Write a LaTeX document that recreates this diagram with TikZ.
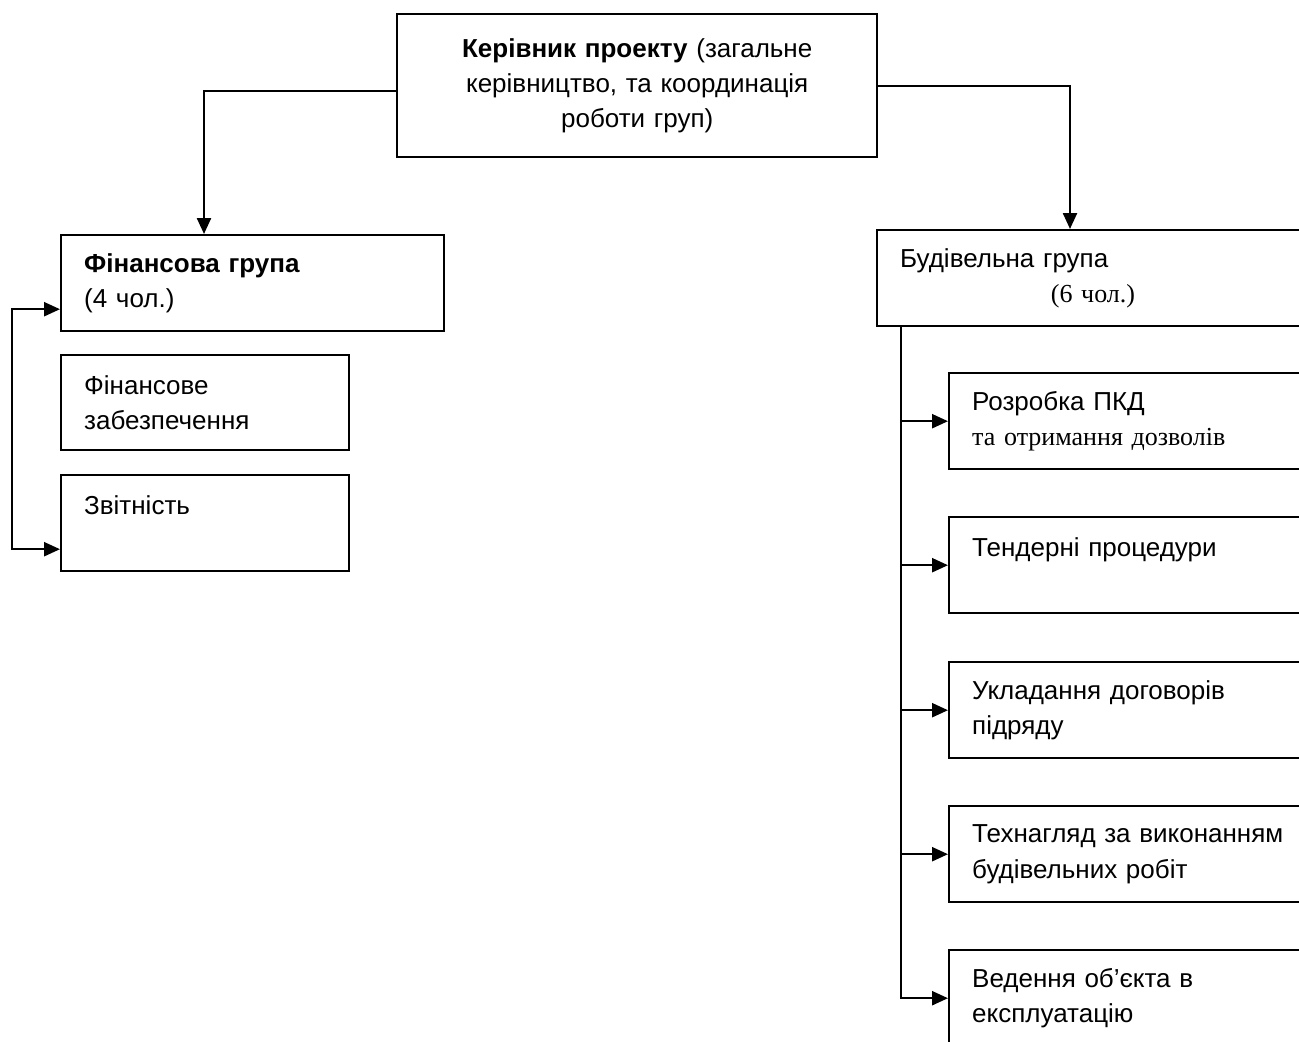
\documentclass[tikz,border=0pt]{standalone}
\usepackage{fontspec}
\setmainfont{Liberation Sans}
\newfontfamily\serifcyr{Liberation Serif}
\usetikzlibrary{arrows.meta}
\begin{document}
\begin{tikzpicture}[x=0.75pt,y=-0.75pt,
  every node/.style={font=\fontsize{19.5}{26.5}\selectfont},
  box/.style={draw, line width=1.8pt, anchor=north west, inner xsep=17.25pt,
    inner ysep=0pt, align=left, minimum height=72pt},
  tip/.tip={Triangle[length=12pt,width=10.5pt]},
  arr/.style={line width=1.8pt, -tip},
  conn/.style={line width=1.8pt}]
\useasboundingbox (0,0) rectangle (1299,1042);
\clip (0,0) rectangle (1299,1042);

% top
\node[box, align=center, text width=325.5pt, minimum height=107.25pt] (top) at (396,13)
  {\textbf{Керівник проекту} (загальне\\ керівництво, та координація\\ роботи груп)};

% financial group
\node[box, text width=252.75pt] (fin) at (60,234) {\textbf{Фінансова група}\\(4 чол.)};
\node[box, text width=181.5pt, minimum height=71.25pt] (finA) at (60,354) {Фінансове\\забезпечення};
\node[box, text width=181.5pt] (finB) at (60,474) {Звітність\\\mbox{}};

% building group
\node[box, text width=400pt] (bud) at (876,229)
  {Будівельна група\\\hspace*{113pt}{\serifcyr (6 чол.)}};

\node[box, text width=300pt] (sA) at (948,372) {Розробка ПКД\\{\serifcyr та отримання дозволів}};
\node[box, text width=300pt] (sB) at (948,516) {Тендерні процедури\\\mbox{}};
\node[box, text width=300pt] (sC) at (948,661) {Укладання договорів\\підряду};
\node[box, text width=300pt] (sD) at (948,805) {Технагляд за виконанням\\будівельних робіт};
\node[box, text width=300pt] (sE) at (948,949) {Ведення об’єкта в\\експлуатацію};

% connectors from top
\draw[arr] ([yshift=-4pt]top.west) -| ([xshift=108pt]fin.north west);
\draw[arr] (top.east) -| ([xshift=145.5pt]bud.north west);

% financial bracket
\draw[conn, tip-tip]
  ([yshift=-19.5pt]fin.west) -- ++(-36pt,0) |- ([yshift=-19.5pt]finB.west);

% building trunk
\coordinate (tr) at ([xshift=18.75pt]bud.south west);
\draw[arr] (tr) |- (sE.west);
\draw[arr] (tr |- sA.west) -- (sA.west);
\draw[arr] (tr |- sB.west) -- (sB.west);
\draw[arr] (tr |- sC.west) -- (sC.west);
\draw[arr] (tr |- sD.west) -- (sD.west);
\end{tikzpicture}
\end{document}
